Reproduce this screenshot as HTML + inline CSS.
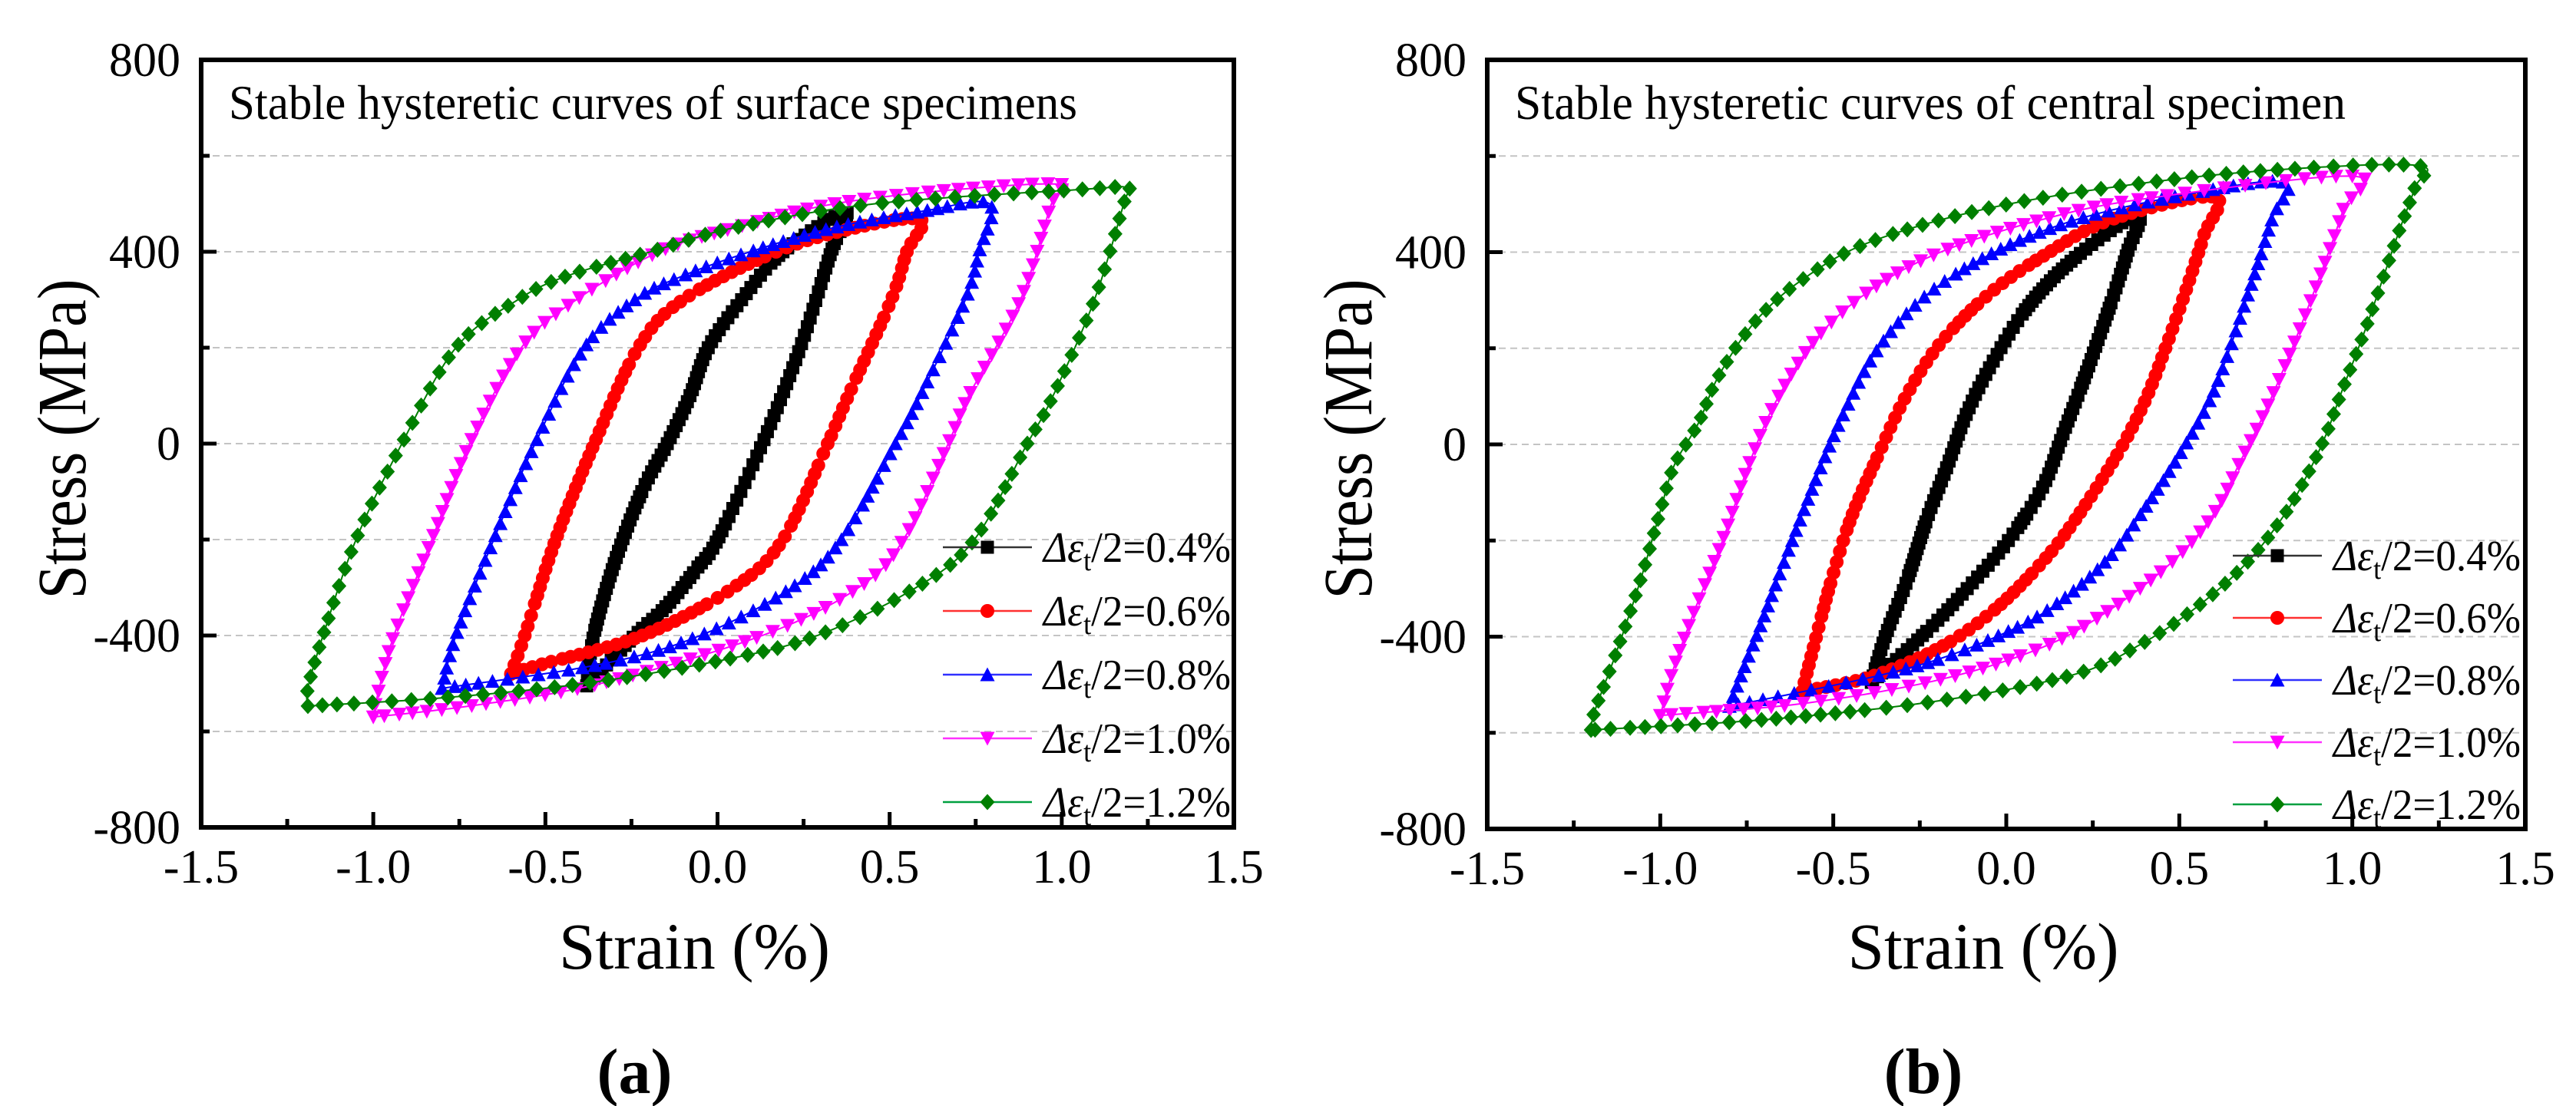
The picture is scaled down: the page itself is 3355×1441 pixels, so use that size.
<!DOCTYPE html>
<html><head><meta charset="utf-8"><style>
html,body{margin:0;padding:0;background:#fff;}
svg{display:block;font-family:"Liberation Serif","Times New Roman",serif;}
</style></head><body>
<svg id="fig" width="3355" height="1441" viewBox="0 0 3355 1441" xmlns="http://www.w3.org/2000/svg"></svg>
<script>
// ---- data ----
const seriesLabels = ["0.4%","0.6%","0.8%","1.0%","1.2%"];
const seriesColors = ["#000000","#ff0000","#0000ff","#ff00ff","#007f00"];
const legendLineColors = ["#333333","#ff3030","#3030ff","#ff30ff","#00a040"];
const xTicks = [-1.5,-1.0,-0.5,0.0,0.5,1.0,1.5];
const xTickLabels = ["-1.5","-1.0","-0.5","0.0","0.5","1.0","1.5"];
const yTicks = [-800,-400,0,400,800];
const yTickLabels = ["-800","-400","0","400","800"];
const yGrid = [-600,-400,-200,0,200,400,600];

// panel a (surface specimens): [strain %, stress MPa]
const a04 = [[-0.38,-505],[-0.36,-400],[-0.3,-250],[-0.22,-100],[-0.146,0],[-0.08,100],[-0.027,200],[0.07,300],[0.19,400],[0.372,482],
             [0.33,400],[0.24,200],[0.13,0],[0.0,-200],[-0.06,-260],[-0.15,-340],[-0.24,-400],[-0.38,-505]];
const a06 = [[-0.6,-480],[-0.56,-400],[-0.47,-200],[-0.358,0],[-0.23,200],[-0.1,300],[0.17,400],[0.4,450],[0.59,467],
             [0.55,400],[0.505,300],[0.38,100],[0.32,0],[0.19,-200],[0.047,-300],[-0.218,-400],[-0.51,-460],[-0.6,-480]];
const a08 = [[-0.8,-510],[-0.76,-400],[-0.65,-200],[-0.53,0],[-0.387,200],[-0.24,300],[-0.1,350],[0.095,400],[0.336,450],[0.6,485],[0.79,500],
             [0.76,400],[0.72,300],[0.59,100],[0.517,0],[0.36,-200],[0.216,-300],[-0.05,-400],[-0.34,-460],[-0.8,-510]];
const a10 = [[-1.0,-570],[-0.99,-532],[-0.94,-400],[-0.83,-200],[-0.72,0],[-0.57,200],[-0.41,300],[-0.17,400],[0.05,450],[0.34,500],[0.7,530],[1.0,540],
             [0.97,500],[0.88,300],[0.73,100],[0.67,0],[0.54,-200],[0.41,-300],[0.13,-400],[-0.34,-500],[-0.7,-545],[-1.0,-570]];
const a12 = [[-1.19,-547],[-1.19,-510],[-1.146,-400],[-1.05,-200],[-0.917,0],[-0.76,200],[-0.58,300],[-0.435,350],[-0.194,400],[0.047,450],[0.457,500],[1.06,530],[1.19,533],
             [1.18,500],[1.095,300],[0.975,100],[0.9,0],[0.746,-200],[0.577,-300],[0.29,-400],[0.023,-450],[-0.387,-500],[-0.8,-530],[-1.19,-547]];
// panel b (central specimen)
const b04 = [[-0.39,-495],[-0.35,-400],[-0.29,-289],[-0.23,-156],[-0.17,-44],[-0.113,67],[-0.034,178],[0.065,289],[0.2,389],[0.38,478],
             [0.35,400],[0.3,289],[0.223,133],[0.164,22],[0.105,-89],[0.006,-200],[-0.113,-300],[-0.23,-389],[-0.39,-495]];
const b06 = [[-0.59,-514],[-0.557,-422],[-0.508,-289],[-0.45,-156],[-0.37,-22],[-0.29,100],[-0.19,211],[-0.053,311],[0.1,389],[0.3,467],[0.6,515],
             [0.57,433],[0.52,322],[0.46,200],[0.4,89],[0.32,-22],[0.2,-156],[0.105,-244],[-0.034,-344],[-0.19,-422],[-0.39,-483],[-0.59,-514]];
const b08 = [[-0.8,-545],[-0.765,-478],[-0.705,-367],[-0.636,-233],[-0.547,-67],[-0.468,67],[-0.37,200],[-0.23,311],[-0.034,400],[0.2,467],[0.5,517],[0.8,546],
             [0.767,467],[0.698,311],[0.6,111],[0.5,-22],[0.4,-133],[0.3,-233],[0.164,-322],[0.006,-389],[-0.29,-467],[-0.8,-545]];
const b10 = [[-1.0,-564],[-0.962,-467],[-0.9,-344],[-0.82,-200],[-0.745,-44],[-0.666,89],[-0.547,222],[-0.39,322],[-0.19,400],[0.1,467],[0.4,511],[1.0,558],
             [0.974,489],[0.915,367],[0.826,200],[0.747,67],[0.678,-33],[0.6,-144],[0.48,-244],[0.3,-344],[0.105,-422],[-0.19,-489],[-0.587,-539],[-1.0,-564]];
const b12 = [[-1.2,-594],[-1.19,-556],[-1.13,-439],[-1.06,-289],[-1.0,-139],[-0.96,-44],[-0.89,44],[-0.83,144],[-0.725,256],[-0.587,344],[-0.39,422],[-0.034,494],[0.4,544],[0.8,572],[1.19,580],
             [1.18,533],[1.13,433],[1.04,244],[0.97,111],[0.925,22],[0.875,-56],[0.806,-144],[0.698,-244],[0.56,-333],[0.4,-411],[0.2,-478],[-0.19,-533],[-0.686,-572],[-1.2,-594]];

const NS = "http://www.w3.org/2000/svg";
const svg = document.getElementById("fig");
function mk(tag, attrs, parent) {
  const e = document.createElementNS(NS, tag);
  for (const k in attrs) e.setAttribute(k, attrs[k]);
  (parent || svg).appendChild(e);
  return e;
}
const markerSpacing = [7, 11, 13, 16, 19];

function markerShape(kind, cx, cy, color, parent) {
  const s = 8.5;
  let e;
  if (kind === 0) e = mk("rect", {x: cx - s, y: cy - s, width: 2 * s, height: 2 * s, fill: color}, parent);
  else if (kind === 1) e = mk("circle", {cx: cx, cy: cy, r: s + 0.5, fill: color}, parent);
  else if (kind === 2) e = mk("polygon", {points: `${cx},${cy - s - 1} ${cx - s - 1},${cy + s} ${cx + s + 1},${cy + s}`, fill: color}, parent);
  else if (kind === 3) e = mk("polygon", {points: `${cx},${cy + s + 1} ${cx - s - 1},${cy - s} ${cx + s + 1},${cy - s}`, fill: color}, parent);
  else e = mk("polygon", {points: `${cx},${cy - s - 2} ${cx + s + 1},${cy} ${cx},${cy + s + 2} ${cx - s - 1},${cy}`, fill: color}, parent);
  return e;
}

function smooth(pts) {
  const out = [];
  for (let i = 0; i < pts.length - 1; i++) {
    const p0 = pts[Math.max(0, i - 1)], p1 = pts[i], p2 = pts[i + 1], p3 = pts[Math.min(pts.length - 1, i + 2)];
    for (let k = 0; k < 24; k++) {
      const t = k / 24, t2 = t * t, t3 = t2 * t;
      const f = (a, b, c, d) => 0.5 * ((2 * b) + (-a + c) * t + (2 * a - 5 * b + 4 * c - d) * t2 + (-a + 3 * b - 3 * c + d) * t3);
      out.push([f(p0[0], p1[0], p2[0], p3[0]), f(p0[1], p1[1], p2[1], p3[1])]);
    }
  }
  out.push(pts[pts.length - 1]);
  return out;
}

function drawPanel(cfg) {
  const g = mk("g", {});
  
  
  const X = v => cfg.x0 + (v + 1.5) / 3 * (cfg.x1 - cfg.x0);
  const Y = v => cfg.y1 - (v + 800) / 1600 * (cfg.y1 - cfg.y0);

  yGrid.forEach(v => {
    const l = mk("line", {x1: cfg.x0, x2: cfg.x1, y1: Y(v), y2: Y(v), stroke: "#c4c4c4", "stroke-width": 2, "stroke-dasharray": "9 6"}, g);
    
    
  });

  cfg.series.forEach((data, si) => {
    const sg = mk("g", {}, g);
    
    
    const px = smooth(data.map(d => [X(d[0]), Y(d[1])]));
    const path = mk("path", {d: "M" + px.map(p => p[0].toFixed(1) + "," + p[1].toFixed(1)).join("L"), fill: "none", stroke: seriesColors[si], "stroke-width": 2}, sg);
    
    
    let acc = 0;
    const sp = markerSpacing[si];
    markerShape(si, px[0][0], px[0][1], seriesColors[si], sg);
    for (let i = 1; i < px.length; i++) {
      acc += Math.hypot(px[i][0] - px[i - 1][0], px[i][1] - px[i - 1][1]);
      if (acc >= sp) { acc = 0; markerShape(si, px[i][0], px[i][1], seriesColors[si], sg); }
    }
  });

  const fr = mk("rect", {x: cfg.x0, y: cfg.y0, width: cfg.x1 - cfg.x0, height: cfg.y1 - cfg.y0, fill: "none", stroke: "#000", "stroke-width": 6}, g);
  
  

  for (let v = -1.5; v <= 1.5001; v += 0.25) {
    const major = Math.abs(v * 2 - Math.round(v * 2)) < 1e-6;
    const t = mk("line", {x1: X(v), x2: X(v), y1: cfg.y1, y2: cfg.y1 - (major ? 20 : 11), stroke: "#000", "stroke-width": 5}, g);
    
    
  }
  for (let v = -800; v <= 800; v += 200) {
    const major = v % 400 === 0;
    const t = mk("line", {x1: cfg.x0, x2: cfg.x0 + (major ? 20 : 11), y1: Y(v), y2: Y(v), stroke: "#000", "stroke-width": 5}, g);
    
    
  }
  xTicks.forEach((v, i) => {
    const t = mk("text", {x: X(v), y: cfg.y1 + 72, "font-size": 62, "text-anchor": "middle"}, g);
    t.textContent = xTickLabels[i];
    
    
  });
  yTicks.forEach((v, i) => {
    const t = mk("text", {x: cfg.x0 - 27, y: Y(v) + 21, "font-size": 62, "text-anchor": "end"}, g);
    t.textContent = yTickLabels[i];
    
    
  });

  const tt = mk("text", {x: cfg.x0 + 36, y: 155, "font-size": 64, textLength: cfg.titleLen, lengthAdjust: "spacingAndGlyphs"}, g);
  tt.textContent = cfg.title;
  
  
  const cx = (cfg.x0 + cfg.x1) / 2;
  const xl = mk("text", {x: cx - 30, y: 1262, "font-size": 86, "text-anchor": "middle", textLength: 353, lengthAdjust: "spacingAndGlyphs"}, g);
  xl.textContent = "Strain (%)";
  
  
  const yx = cfg.x0 - 151;
  const yl = mk("text", {x: yx, y: 572, "font-size": 90, "text-anchor": "middle", transform: `rotate(-90 ${yx} 572)`, textLength: 417, lengthAdjust: "spacingAndGlyphs"}, g);
  yl.textContent = "Stress (MPa)";
  
  
  const pl = mk("text", {x: cx - 108, y: 1424, "font-size": 84, "font-weight": "bold", "text-anchor": "middle"}, g);
  pl.textContent = cfg.panel;
  
  

  seriesLabels.forEach((lab, i) => {
    const ry = cfg.ly + i * cfg.lstep;
    const lg = mk("g", {}, g);
    
    
    mk("line", {x1: cfg.lx, x2: cfg.lx + 116, y1: ry, y2: ry, stroke: legendLineColors[i], "stroke-width": 2.5}, lg);
    markerShape(i, cfg.lx + 58, ry, seriesColors[i], lg);
    const t = mk("text", {x: cfg.lx + 131, y: ry + 19, "font-size": 56, textLength: 244, lengthAdjust: "spacingAndGlyphs"}, lg);
    t.innerHTML = '<tspan font-style="italic">Δε</tspan><tspan font-size="38" dy="11">t</tspan><tspan dy="-11">/2=' + lab + '</tspan>';
  });
}

drawPanel({name: "panel-a-chart", x0: 262, x1: 1607, y0: 78, y1: 1078, series: [a04, a06, a08, a10, a12],
  title: "Stable hysteretic curves of surface specimens", titleLen: 1105, panel: "(a)", lx: 1228, ly: 713, lstep: 83});
drawPanel({name: "panel-b-chart", x0: 1937, x1: 3289, y0: 78, y1: 1080, series: [b04, b06, b08, b10, b12],
  title: "Stable hysteretic curves of central specimen", titleLen: 1082, panel: "(b)", lx: 2908, ly: 724, lstep: 81});
</script>
</body></html>
